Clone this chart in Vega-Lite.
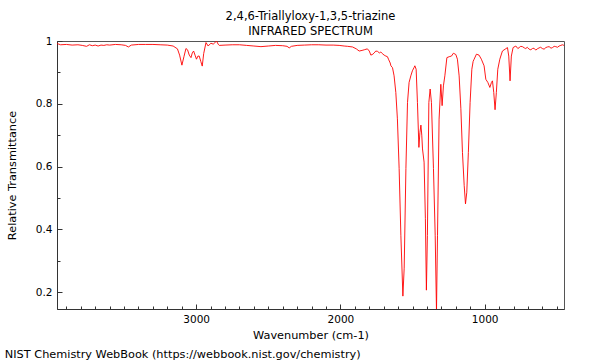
{
  "$schema": "https://vega.github.io/schema/vega-lite/v6.json",
  "padding": {"left": 4, "top": 10, "right": 0, "bottom": 0},
  "config": {
    "font": "DejaVu Sans",
    "view": {"stroke": "#555", "strokeWidth": 1},
    "axis": {"domainColor": "#333", "tickColor": "#333", "labelColor": "#000", "titleColor": "#000", "labelFont": "DejaVu Sans", "titleFont": "DejaVu Sans", "labelFontSize": 10.5, "titleFontSize": 11.3, "titleFontWeight": "normal", "grid": false}
  },
  "title": {"text": "NIST Chemistry WebBook (https://webbook.nist.gov/chemistry)", "orient": "bottom", "anchor": "start", "frame": "bounds", "fontSize": 11.3, "fontWeight": "normal", "font": "DejaVu Sans", "color": "#000", "offset": 8, "dx": -1},
  "vconcat": [
    {
      "title": {"text": ["2,4,6-Triallyloxy-1,3,5-triazine", "INFRARED SPECTRUM"], "anchor": "middle", "fontSize": 11.5, "fontWeight": "normal", "font": "DejaVu Sans", "color": "#000", "lineHeight": 15, "offset": -2, "dy": -1},
      "width": 507,
      "height": 268,
      "data": {"values": [
        {"wn": 3965, "t": 0.992}, {"wn": 3940, "t": 0.988}, {"wn": 3900, "t": 0.989}, {"wn": 3860, "t": 0.987},
        {"wn": 3820, "t": 0.988}, {"wn": 3790, "t": 0.986}, {"wn": 3760, "t": 0.983}, {"wn": 3740, "t": 0.988},
        {"wn": 3720, "t": 0.985}, {"wn": 3700, "t": 0.987}, {"wn": 3680, "t": 0.984}, {"wn": 3660, "t": 0.987},
        {"wn": 3640, "t": 0.986}, {"wn": 3620, "t": 0.988}, {"wn": 3600, "t": 0.987}, {"wn": 3560, "t": 0.989},
        {"wn": 3520, "t": 0.988}, {"wn": 3490, "t": 0.986}, {"wn": 3470, "t": 0.981}, {"wn": 3450, "t": 0.987},
        {"wn": 3400, "t": 0.989}, {"wn": 3350, "t": 0.989}, {"wn": 3300, "t": 0.989}, {"wn": 3250, "t": 0.988},
        {"wn": 3200, "t": 0.987}, {"wn": 3160, "t": 0.984}, {"wn": 3130, "t": 0.975}, {"wn": 3115, "t": 0.955},
        {"wn": 3099, "t": 0.923}, {"wn": 3085, "t": 0.95}, {"wn": 3071, "t": 0.976}, {"wn": 3060, "t": 0.972},
        {"wn": 3048, "t": 0.955}, {"wn": 3036, "t": 0.947}, {"wn": 3027, "t": 0.962}, {"wn": 3018, "t": 0.968},
        {"wn": 3008, "t": 0.955}, {"wn": 2998, "t": 0.942}, {"wn": 2988, "t": 0.952}, {"wn": 2979, "t": 0.952},
        {"wn": 2968, "t": 0.935}, {"wn": 2958, "t": 0.92}, {"wn": 2948, "t": 0.96}, {"wn": 2932, "t": 0.995},
        {"wn": 2917, "t": 0.984}, {"wn": 2898, "t": 0.993}, {"wn": 2882, "t": 0.99}, {"wn": 2870, "t": 0.995},
        {"wn": 2859, "t": 1.0}, {"wn": 2848, "t": 0.99}, {"wn": 2840, "t": 0.986}, {"wn": 2800, "t": 0.987},
        {"wn": 2750, "t": 0.988}, {"wn": 2700, "t": 0.988}, {"wn": 2650, "t": 0.986}, {"wn": 2600, "t": 0.984},
        {"wn": 2551, "t": 0.982}, {"wn": 2500, "t": 0.984}, {"wn": 2450, "t": 0.986}, {"wn": 2400, "t": 0.985},
        {"wn": 2370, "t": 0.983}, {"wn": 2355, "t": 0.978}, {"wn": 2340, "t": 0.983}, {"wn": 2300, "t": 0.986},
        {"wn": 2250, "t": 0.987}, {"wn": 2200, "t": 0.988}, {"wn": 2150, "t": 0.988}, {"wn": 2100, "t": 0.987},
        {"wn": 2050, "t": 0.987}, {"wn": 2009, "t": 0.986}, {"wn": 1974, "t": 0.984}, {"wn": 1950, "t": 0.983},
        {"wn": 1916, "t": 0.981}, {"wn": 1890, "t": 0.975}, {"wn": 1870, "t": 0.968}, {"wn": 1850, "t": 0.97},
        {"wn": 1835, "t": 0.972}, {"wn": 1813, "t": 0.975}, {"wn": 1800, "t": 0.968}, {"wn": 1789, "t": 0.955},
        {"wn": 1775, "t": 0.958}, {"wn": 1766, "t": 0.962}, {"wn": 1755, "t": 0.968}, {"wn": 1743, "t": 0.967},
        {"wn": 1730, "t": 0.962}, {"wn": 1720, "t": 0.965}, {"wn": 1710, "t": 0.96}, {"wn": 1697, "t": 0.955},
        {"wn": 1685, "t": 0.952}, {"wn": 1674, "t": 0.95}, {"wn": 1665, "t": 0.94}, {"wn": 1655, "t": 0.93},
        {"wn": 1650, "t": 0.921}, {"wn": 1639, "t": 0.915}, {"wn": 1628, "t": 0.889}, {"wn": 1616, "t": 0.836},
        {"wn": 1605, "t": 0.752}, {"wn": 1593, "t": 0.594}, {"wn": 1581, "t": 0.381}, {"wn": 1567, "t": 0.187},
        {"wn": 1558, "t": 0.276}, {"wn": 1546, "t": 0.594}, {"wn": 1535, "t": 0.804}, {"wn": 1524, "t": 0.868},
        {"wn": 1512, "t": 0.889}, {"wn": 1501, "t": 0.905}, {"wn": 1490, "t": 0.915}, {"wn": 1484, "t": 0.921},
        {"wn": 1475, "t": 0.91}, {"wn": 1466, "t": 0.804}, {"wn": 1456, "t": 0.661}, {"wn": 1449, "t": 0.708},
        {"wn": 1442, "t": 0.732}, {"wn": 1436, "t": 0.7}, {"wn": 1431, "t": 0.656}, {"wn": 1420, "t": 0.614},
        {"wn": 1411, "t": 0.435}, {"wn": 1404, "t": 0.206}, {"wn": 1397, "t": 0.38}, {"wn": 1387, "t": 0.804},
        {"wn": 1378, "t": 0.847}, {"wn": 1369, "t": 0.804}, {"wn": 1355, "t": 0.594}, {"wn": 1343, "t": 0.381},
        {"wn": 1334, "t": 0.14}, {"wn": 1327, "t": 0.381}, {"wn": 1316, "t": 0.751}, {"wn": 1304, "t": 0.862},
        {"wn": 1295, "t": 0.794}, {"wn": 1286, "t": 0.857}, {"wn": 1276, "t": 0.889}, {"wn": 1262, "t": 0.947},
        {"wn": 1246, "t": 0.95}, {"wn": 1230, "t": 0.952}, {"wn": 1217, "t": 0.961}, {"wn": 1200, "t": 0.957},
        {"wn": 1189, "t": 0.942}, {"wn": 1177, "t": 0.889}, {"wn": 1165, "t": 0.784}, {"wn": 1154, "t": 0.645},
        {"wn": 1142, "t": 0.54}, {"wn": 1133, "t": 0.481}, {"wn": 1124, "t": 0.518}, {"wn": 1113, "t": 0.645},
        {"wn": 1101, "t": 0.804}, {"wn": 1089, "t": 0.91}, {"wn": 1080, "t": 0.935}, {"wn": 1073, "t": 0.942},
        {"wn": 1057, "t": 0.958}, {"wn": 1039, "t": 0.955}, {"wn": 1023, "t": 0.942}, {"wn": 1004, "t": 0.921},
        {"wn": 992, "t": 0.878}, {"wn": 978, "t": 0.868}, {"wn": 964, "t": 0.852}, {"wn": 953, "t": 0.868},
        {"wn": 946, "t": 0.873}, {"wn": 937, "t": 0.836}, {"wn": 928, "t": 0.781}, {"wn": 919, "t": 0.836},
        {"wn": 909, "t": 0.91}, {"wn": 895, "t": 0.942}, {"wn": 877, "t": 0.968}, {"wn": 858, "t": 0.974},
        {"wn": 842, "t": 0.979}, {"wn": 833, "t": 0.952}, {"wn": 824, "t": 0.873}, {"wn": 815, "t": 0.952},
        {"wn": 803, "t": 0.979}, {"wn": 784, "t": 0.984}, {"wn": 770, "t": 0.976}, {"wn": 761, "t": 0.979},
        {"wn": 750, "t": 0.983}, {"wn": 738, "t": 0.982}, {"wn": 725, "t": 0.978}, {"wn": 715, "t": 0.976},
        {"wn": 705, "t": 0.98}, {"wn": 692, "t": 0.974}, {"wn": 680, "t": 0.972}, {"wn": 669, "t": 0.976},
        {"wn": 658, "t": 0.977}, {"wn": 646, "t": 0.971}, {"wn": 635, "t": 0.975}, {"wn": 623, "t": 0.978},
        {"wn": 612, "t": 0.98}, {"wn": 600, "t": 0.976}, {"wn": 588, "t": 0.974}, {"wn": 576, "t": 0.979},
        {"wn": 565, "t": 0.981}, {"wn": 553, "t": 0.982}, {"wn": 540, "t": 0.977}, {"wn": 530, "t": 0.979},
        {"wn": 518, "t": 0.983}, {"wn": 507, "t": 0.982}, {"wn": 495, "t": 0.98}, {"wn": 484, "t": 0.984},
        {"wn": 472, "t": 0.986}, {"wn": 461, "t": 0.988}, {"wn": 450, "t": 0.986}
      ]},
      "mark": {"type": "line", "color": "#ff0000", "strokeWidth": 0.9, "clip": true, "interpolate": "linear"},
      "encoding": {
        "x": {"field": "wn", "type": "quantitative", "sort": null,
          "scale": {"domain": [450, 3965], "reverse": true, "nice": false, "zero": false},
          "axis": {"title": "Wavenumber (cm-1)", "titlePadding": 5,
            "values": [3900, 3800, 3700, 3600, 3500, 3400, 3300, 3200, 3100, 3000, 2900, 2800, 2700, 2600, 2500, 2400, 2300, 2200, 2100, 2000, 1900, 1800, 1700, 1600, 1500, 1400, 1300, 1200, 1100, 1000, 900, 800, 700, 600, 500],
            "labelExpr": "datum.value % 1000 === 0 ? format(datum.value, 'd') : ''",
            "tickSize": {"condition": {"test": "datum.value % 1000 === 0", "value": -5}, "value": -3},
            "labelPadding": 10, "labelFlush": false}
        },
        "y": {"field": "t", "type": "quantitative",
          "scale": {"domain": [0.146, 1.0], "nice": false, "zero": false},
          "axis": {"title": "Relative Transmittance", "titlePadding": 18,
            "values": [0.2, 0.3, 0.4, 0.5, 0.6, 0.7, 0.8, 0.9, 1.0],
            "labelExpr": "round(datum.value * 10) % 2 === 0 ? format(datum.value, '~g') : ''",
            "tickSize": {"condition": {"test": "round(datum.value * 10) % 2 === 0", "value": -5}, "value": -3},
            "labelPadding": 10, "labelFlush": false}
        }
      }
    }
  ]
}
